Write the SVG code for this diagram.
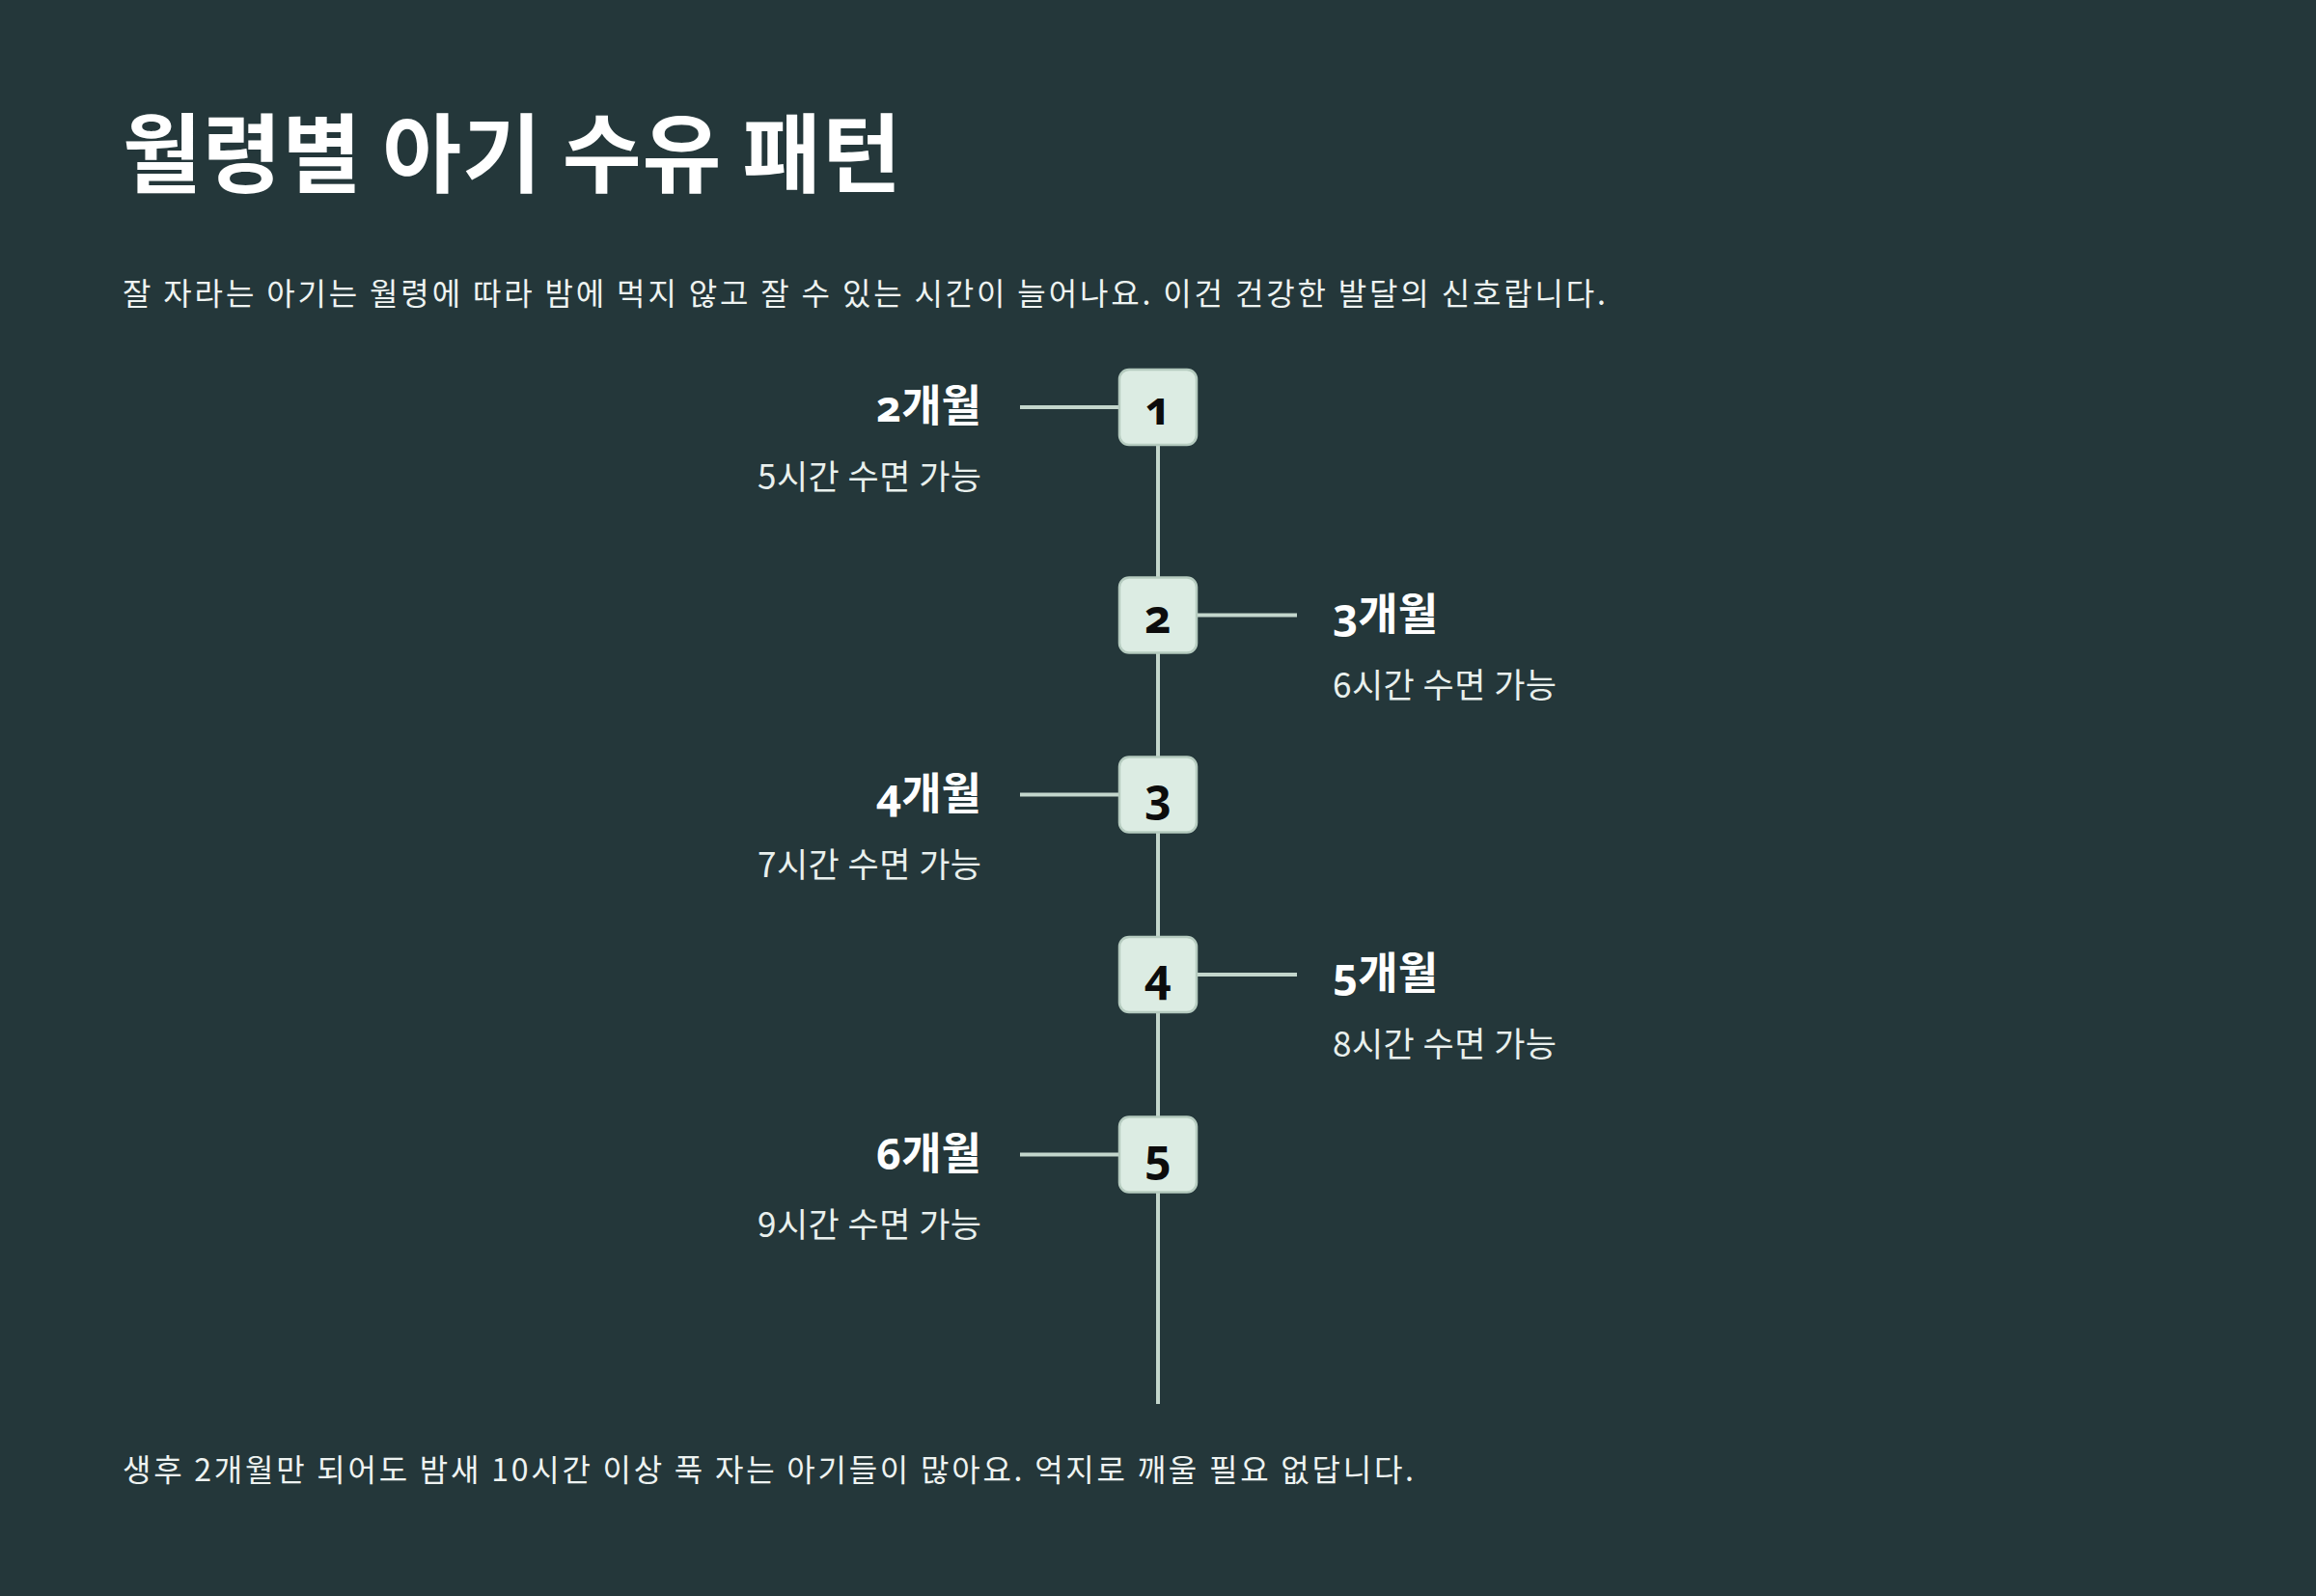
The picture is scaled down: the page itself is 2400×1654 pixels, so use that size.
<svg xmlns="http://www.w3.org/2000/svg" width="2400" height="1654" viewBox="0 0 2400 1654">
<style>
.bg{fill:#24373a}
.title{font-family:"Noto Sans CJK KR","Noto Sans",sans-serif;font-weight:700;font-size:89px;fill:#ffffff}
.para{font-family:"Noto Sans CJK KR","Noto Sans",sans-serif;font-weight:400;font-size:32px;fill:#eef3f1}
.head{font-family:"Noto Sans","Noto Sans CJK KR",sans-serif;font-weight:700;font-size:45px;fill:#ffffff;font-variant-numeric:oldstyle-nums;font-feature-settings:"onum" 1}
.sub{font-family:"Noto Sans CJK KR","Noto Sans",sans-serif;font-weight:400;font-size:35px;fill:#e9f0ed}
.box{fill:#dcece3;stroke:#b5cbbf;stroke-width:2.5}
.num{font-family:"Noto Sans","Noto Sans CJK KR",sans-serif;font-weight:700;font-size:48px;fill:#0c0c0c;text-anchor:middle;font-variant-numeric:oldstyle-nums;font-feature-settings:"onum" 1}
.ln{stroke:#c3d6cc;stroke-width:4;fill:none}
</style>
<rect class="bg" x="0" y="0" width="2400" height="1654"/>
<g id="title"><text class="title" x="127" y="192" textLength="807">월령별 아기 수유 패턴</text></g>
<g id="intro"><text class="para" x="127" y="316" textLength="1537">잘 자라는 아기는 월령에 따라 밤에 먹지 않고 잘 수 있는 시간이 늘어나요. 이건 건강한 발달의 신호랍니다.</text></g>
<g id="connectors">
<line class="ln" x1="1200" y1="422" x2="1200" y2="1455"/>
<line class="ln" x1="1057" y1="422" x2="1160" y2="422"/>
<line class="ln" x1="1240" y1="637.5" x2="1344" y2="637.5"/>
<line class="ln" x1="1057" y1="823.5" x2="1160" y2="823.5"/>
<line class="ln" x1="1240" y1="1010" x2="1344" y2="1010"/>
<line class="ln" x1="1057" y1="1196.5" x2="1160" y2="1196.5"/>
</g>
<g id="step1">
<rect class="box" x="1160" y="383" width="80" height="78" rx="10"/>
<text class="num" x="1200" y="440">1</text>
<text class="head" x="1017" y="437" text-anchor="end">2개월</text>
<text class="sub" x="1017" y="507" text-anchor="end" textLength="232">5시간 수면 가능</text>
</g>
<g id="step2">
<rect class="box" x="1160" y="598.5" width="80" height="78" rx="10"/>
<text class="num" x="1200" y="655.5">2</text>
<text class="head" x="1381" y="652.5">3개월</text>
<text class="sub" x="1381" y="722.5" textLength="232">6시간 수면 가능</text>
</g>
<g id="step3">
<rect class="box" x="1160" y="784.5" width="80" height="78" rx="10"/>
<text class="num" x="1200" y="841.5">3</text>
<text class="head" x="1017" y="838.5" text-anchor="end">4개월</text>
<text class="sub" x="1017" y="908.5" text-anchor="end" textLength="232">7시간 수면 가능</text>
</g>
<g id="step4">
<rect class="box" x="1160" y="971" width="80" height="78" rx="10"/>
<text class="num" x="1200" y="1028">4</text>
<text class="head" x="1381" y="1025">5개월</text>
<text class="sub" x="1381" y="1095" textLength="232">8시간 수면 가능</text>
</g>
<g id="step5">
<rect class="box" x="1160" y="1157.5" width="80" height="78" rx="10"/>
<text class="num" x="1200" y="1214.5">5</text>
<text class="head" x="1017" y="1211.5" text-anchor="end">6개월</text>
<text class="sub" x="1017" y="1281.5" text-anchor="end" textLength="232">9시간 수면 가능</text>
</g>
<g id="footer"><text class="para" x="127" y="1535" textLength="1338">생후 2개월만 되어도 밤새 10시간 이상 푹 자는 아기들이 많아요. 억지로 깨울 필요 없답니다.</text></g>
</svg>
